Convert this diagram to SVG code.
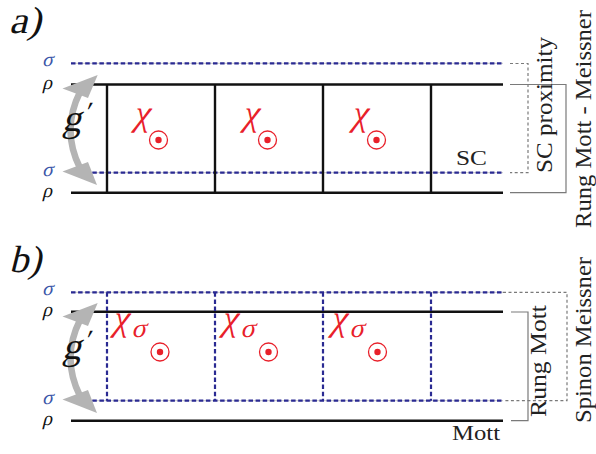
<svg xmlns="http://www.w3.org/2000/svg" width="596" height="454" viewBox="0 0 596 454">
<defs>
<style>
.lbl{font-family:"Liberation Serif","DejaVu Serif",serif}
.rm{font-family:"Liberation Serif","DejaVu Serif",serif;fill:#222}
.sig{fill:#3a55a8;font-size:20px}
.rho{fill:#111;font-size:20px}
.chi{fill:#e8202a;font-size:36px}
.solid{stroke:#111;stroke-width:2.4;fill:none}
.under{stroke:#c8c8c8;stroke-width:1;fill:none}
.dash{stroke:#2a2a92;stroke-width:2.2;stroke-dasharray:4.5 2.6;fill:none}
.br{stroke:#7a7a7a;stroke-width:1.2;fill:none}
.brd{stroke:#7a7a7a;stroke-width:1.2;stroke-dasharray:3 2.5;fill:none}
.ring{stroke:#e8202a;stroke-width:1.3;fill:none}
.dot{fill:#e8202a}
.arr{stroke:#b4b4b4;stroke-width:6.5;fill:none}
.head{fill:#b4b4b4}
</style>
<g id="garrow">
<path class="arr" d="M80 92 Q61 130 80 168"/>
<polygon class="head" points="97.7,75 62.5,88.5 88,98"/>
<polygon class="head" points="97,185 62.5,171.5 88,162"/>
</g>
<g id="flux">
<circle class="ring" cx="0" cy="0" r="9"/>
<circle class="dot" cx="0" cy="0" r="3.2"/>
</g>
</defs>

<g id="panel-a-label"><text class="lbl" transform="translate(9,33) skewX(-14)" font-size="38" fill="#111" textLength="32" lengthAdjust="spacingAndGlyphs">a)</text></g>

<g id="connectors">
<line class="under" x1="71" y1="63.3" x2="503" y2="63.3"/>
<line class="dash" x1="71" y1="63.3" x2="503" y2="63.3"/>
<line class="solid" x1="71" y1="84.5" x2="503" y2="84.5"/>
<line class="under" x1="71" y1="172.7" x2="503" y2="172.7"/>
<line class="dash" x1="71" y1="172.7" x2="503" y2="172.7"/>
<line class="solid" x1="71" y1="192.7" x2="503" y2="192.7"/>
<line class="solid" x1="107" y1="84.5" x2="107" y2="192.7"/>
<line class="solid" x1="215" y1="84.5" x2="215" y2="192.7"/>
<line class="solid" x1="323" y1="84.5" x2="323" y2="192.7"/>
<line class="solid" x1="431" y1="84.5" x2="431" y2="192.7"/>
<path class="brd" d="M510 63.5 H528 V172.7 H510"/>
<path class="br" d="M510 84.5 H566 V192.7 H510"/>
<line class="under" x1="71" y1="292.3" x2="503" y2="292.3"/>
<line class="dash" x1="71" y1="292.3" x2="503" y2="292.3"/>
<line class="solid" x1="71" y1="311.7" x2="503" y2="311.7"/>
<line class="under" x1="71" y1="400.7" x2="503" y2="400.7"/>
<line class="dash" x1="71" y1="400.7" x2="503" y2="400.7"/>
<line class="solid" x1="71" y1="420.7" x2="503" y2="420.7"/>
<line class="dash" x1="107" y1="292.3" x2="107" y2="400.7"/>
<line class="dash" x1="215" y1="292.3" x2="215" y2="400.7"/>
<line class="dash" x1="323" y1="292.3" x2="323" y2="400.7"/>
<line class="dash" x1="431" y1="292.3" x2="431" y2="400.7"/>
<path class="brd" d="M503 292.3 H567 V400.7 H503"/>
<path class="br" d="M511 312 H528 V420.7 H511"/>
</g>

<g id="arrow-a"><use href="#garrow"/></g>
<g id="arrow-b"><use href="#garrow" transform="translate(0,228)"/></g>

<g id="labels-a">
<text class="lbl sig" transform="translate(42,66) skewX(-14)">σ</text>
<text class="lbl rho" transform="translate(42,89) skewX(-14)">ρ</text>
<text class="lbl sig" transform="translate(42,176) skewX(-14)">σ</text>
<text class="lbl rho" transform="translate(42,197) skewX(-14)">ρ</text>
<text class="lbl" transform="translate(62,131) skewX(-14)" font-size="38" fill="#111">g<tspan dx="0" dy="-10" font-size="28">′</tspan></text>
</g>

<g id="cell-a1"><text class="lbl chi" transform="translate(133,125) skewX(-14)">χ</text><use href="#flux" x="158.5" y="140"/></g>
<g id="cell-a2"><text class="lbl chi" transform="translate(242,125) skewX(-14)">χ</text><use href="#flux" x="267.5" y="140"/></g>
<g id="cell-a3"><text class="lbl chi" transform="translate(351,125) skewX(-14)">χ</text><use href="#flux" x="376.5" y="140"/></g>
<g id="sc-label"><text class="rm" x="456" y="165" font-size="22" textLength="31" lengthAdjust="spacingAndGlyphs">SC</text></g>
<g id="sc-proximity"><text class="rm" transform="translate(552,105) rotate(-90)" text-anchor="middle" font-size="23" textLength="136" lengthAdjust="spacingAndGlyphs">SC proximity</text></g>
<g id="rung-mott-meissner"><text class="rm" transform="translate(591,119) rotate(-90)" text-anchor="middle" font-size="23" textLength="218" lengthAdjust="spacingAndGlyphs">Rung Mott - Meissner</text></g>

<g id="panel-b-label"><text class="lbl" transform="translate(9,272) skewX(-14)" font-size="38" fill="#111" textLength="32" lengthAdjust="spacingAndGlyphs">b)</text></g>
<g id="labels-b">
<text class="lbl sig" transform="translate(42,295) skewX(-14)">σ</text>
<text class="lbl rho" transform="translate(42,316) skewX(-14)">ρ</text>
<text class="lbl sig" transform="translate(42,404) skewX(-14)">σ</text>
<text class="lbl rho" transform="translate(42,425) skewX(-14)">ρ</text>
<text class="lbl" transform="translate(62,359) skewX(-14)" font-size="38" fill="#111">g<tspan dx="0" dy="-10" font-size="28">′</tspan></text>
</g>
<g id="cell-b1"><text class="lbl chi" transform="translate(112,330) skewX(-14)">χ<tspan dx="5" dy="7" font-size="27">σ</tspan></text><use href="#flux" x="160" y="352"/></g>
<g id="cell-b2"><text class="lbl chi" transform="translate(221,330) skewX(-14)">χ<tspan dx="5" dy="7" font-size="27">σ</tspan></text><use href="#flux" x="268.5" y="352"/></g>
<g id="cell-b3"><text class="lbl chi" transform="translate(330,330) skewX(-14)">χ<tspan dx="5" dy="7" font-size="27">σ</tspan></text><use href="#flux" x="377.5" y="352"/></g>
<g id="mott-label"><text class="rm" x="452" y="440" font-size="22" textLength="48" lengthAdjust="spacingAndGlyphs">Mott</text></g>
<g id="rung-mott"><text class="rm" transform="translate(546,361) rotate(-90)" text-anchor="middle" font-size="23" textLength="112" lengthAdjust="spacingAndGlyphs">Rung Mott</text></g>
<g id="spinon-meissner"><text class="rm" transform="translate(591,340) rotate(-90)" text-anchor="middle" font-size="23" textLength="166" lengthAdjust="spacingAndGlyphs">Spinon Meissner</text></g>
</svg>
